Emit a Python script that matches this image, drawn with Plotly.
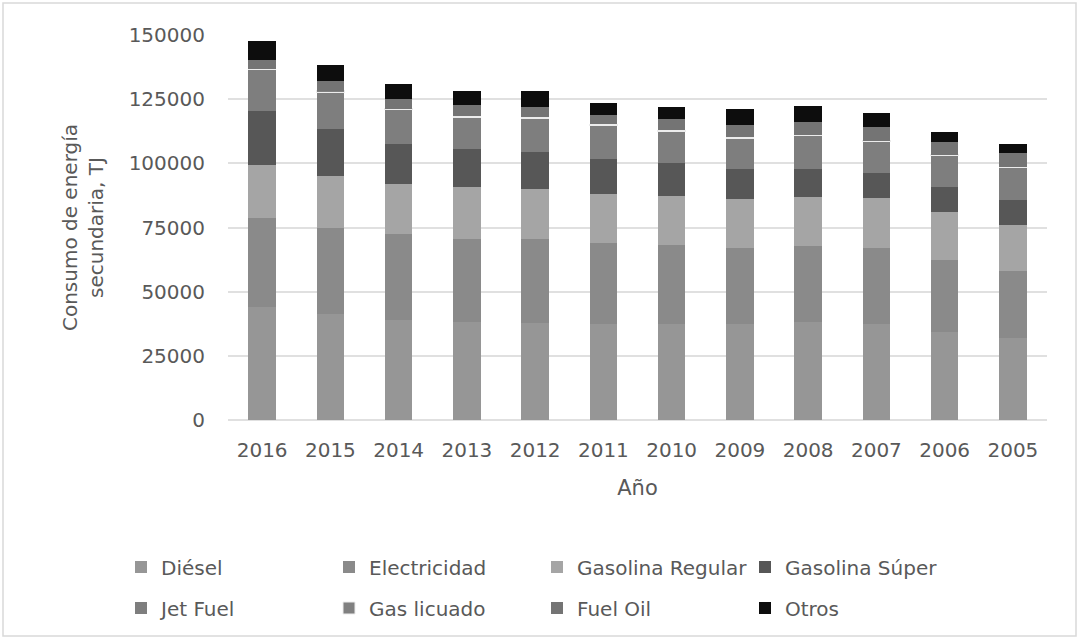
import plotly.graph_objects as go

years = ["2016", "2015", "2014", "2013", "2012", "2011", "2010", "2009", "2008", "2007", "2006", "2005"]
diesel = [43900, 41300, 39000, 38000, 37900, 37300, 37300, 37300, 38000, 37300, 34200, 31800]
electricidad = [34700, 33600, 33400, 32700, 32600, 31600, 30700, 29600, 29900, 29600, 28200, 26200]
gas_regular = [20800, 20300, 19600, 19900, 19500, 19200, 19100, 19100, 19100, 19500, 18800, 17900]
gas_super = [21000, 18100, 15600, 14900, 14500, 13600, 13000, 11800, 10800, 9700, 9400, 10000]
jet_fuel = [16000, 14400, 13300, 12300, 13000, 13000, 12300, 12000, 12900, 12300, 12300, 12300]
gas_licuado = [500, 500, 450, 450, 450, 450, 450, 450, 450, 450, 450, 450]
fuel_oil = [3400, 3700, 3700, 4300, 4000, 3700, 4300, 4700, 5100, 5400, 5100, 5400]
otros = [7400, 6500, 5900, 5600, 6100, 4600, 4700, 6100, 6200, 5500, 3600, 3300]

# name, values, fill, outline colour, outline width, legend
series = [
    ("Diésel", diesel, "#969696", "#969696", 0, "legend"),
    ("Electricidad", electricidad, "#8a8a8a", "#8a8a8a", 0, "legend"),
    ("Gasolina Regular", gas_regular, "#a5a5a5", "#a5a5a5", 0, "legend"),
    ("Gasolina Súper", gas_super, "#575757", "#575757", 0, "legend"),
    ("Jet Fuel", jet_fuel, "#7e7e7e", "#7e7e7e", 0, "legend2"),
    ("Gas licuado", gas_licuado, "#808080", "#ececec", 1, "legend2"),
    ("Fuel Oil", fuel_oil, "#747474", "#747474", 0, "legend2"),
    ("Otros", otros, "#0d0d0d", "#0d0d0d", 0, "legend2"),
]

FONT = "DejaVu Sans"
TXT = "#595959"
FS = 20

fig = go.Figure()
for name, vals, color, lcolor, lw, leg in series:
    fig.add_trace(go.Bar(x=years, y=vals, name=name, marker_color=color,
                         marker_line=dict(color=lcolor, width=lw), legend=leg))

# plot area: x 228..1047, y 35..420
L, R, T, B = 228, 1047, 35, 420
W, H = 1079, 639
pw, ph = R - L, B - T

def px_x(p):
    return (p - L) / pw

def px_y(p):
    return (B - p) / ph

leg_common = dict(orientation="h", xanchor="left", yanchor="middle",
                  traceorder="normal", entrywidth=163,
                  font=dict(family=FONT, size=FS, color=TXT),
                  bgcolor="rgba(0,0,0,0)", itemclick=False)

fig.update_layout(
    width=W, height=H,
    margin=dict(l=L, r=W - R, t=T, b=H - B),
    paper_bgcolor="white", plot_bgcolor="white",
    barmode="stack", bargap=0.6,
    font=dict(family=FONT, color=TXT, size=FS),
    showlegend=True,
    legend=dict(x=px_x(121), y=px_y(567), **leg_common),
    legend2=dict(x=px_x(121), y=px_y(608), **leg_common),
    xaxis=dict(
        showgrid=False, showline=False, ticks="",
        tickfont=dict(family=FONT, size=FS, color=TXT),
        ticklabelstandoff=16,
        title=dict(text="Año", font=dict(family=FONT, size=21, color=TXT), standoff=19),
        automargin=False,
    ),
    yaxis=dict(
        range=[0, 150000], dtick=25000, tickformat="d",
        showgrid=True, gridcolor="#e0e0e0", gridwidth=1.5,
        zeroline=True, zerolinecolor="#e0e0e0", zerolinewidth=1.5,
        showline=False, ticks="",
        tickfont=dict(family=FONT, size=FS, color=TXT),
        ticklabelstandoff=22,
        title=dict(text="Consumo de energía<br>secundaria, TJ",
                   font=dict(family=FONT, size=FS, color=TXT), standoff=19),
        automargin=False,
    ),
    shapes=[dict(type="rect", xref="paper", yref="paper",
                 x0=px_x(3), x1=px_x(1076), y0=px_y(636), y1=px_y(3),
                 line=dict(color="#d9d9d9", width=1.5), layer="below")],
)

fig.write_html("out.html")
